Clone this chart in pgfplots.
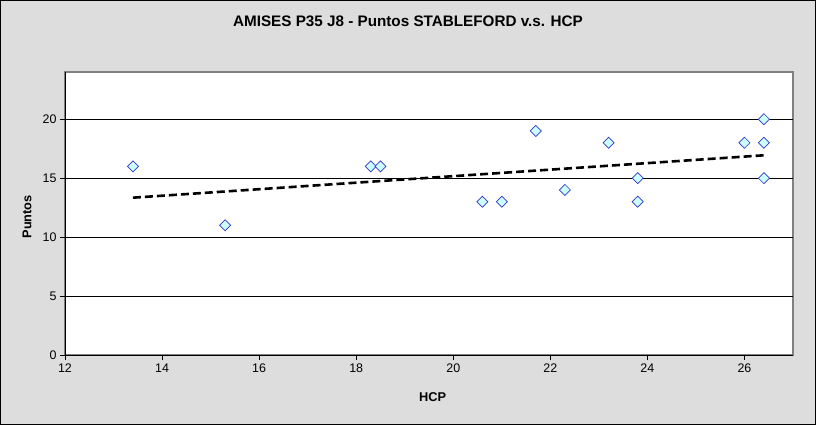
\documentclass[border=0pt]{standalone}
\usepackage{fontspec}
\setmainfont{Liberation Sans}
\usepackage{pgfplots}
\usepackage{pgfplotstable}
\pgfplotsset{compat=1.18}
\definecolor{bgray}{RGB}{221,221,221}
\definecolor{pgray}{RGB}{128,128,128}
\definecolor{mfill}{RGB}{204,255,255}
\definecolor{mdraw}{RGB}{51,51,204}
\pgfplotstableread{
x y
13.4 16
15.3 11
18.3 16
18.5 16
20.6 13
21.0 13
21.7 19
22.3 14
23.2 18
23.8 15
23.8 13
26.0 18
26.4 20
26.4 18
26.4 15
}\data
\begin{document}
\begin{tikzpicture}[x=1bp,y=1bp]
\fill[bgray] (0,0) rectangle (816,425);
\draw[black, line width=1.5bp] (0.75,0.75) rectangle (815.25,424.25);
\node[font=\fontsize{15.3}{18}\selectfont\bfseries] at (408,404) {AMISES P35 J8 - Puntos STABLEFORD v.s. HCP};
\begin{axis}[
  at={(65bp,70bp)}, anchor=south west,
  scale only axis, width=728bp, height=283bp,
  xmin=12, xmax=27, ymin=0, ymax=24,
  xtick={12,14,...,26}, ytick={0,5,...,20},
  axis x line*=bottom, axis y line*=left,
  axis line style={black, line width=0.8bp},
  axis background/.style={fill=white, draw=pgray, line width=1.5bp},
  tick align=outside, major tick length=5bp,
  tick style={black, line width=0.8bp},
  ymajorgrids, grid style={black, line width=0.8bp},
  ticklabel style={font=\fontsize{12.5}{14}\selectfont},
  /pgf/number format/assume math mode=true,
  xlabel={HCP}, ylabel={Puntos},
  label style={font=\fontsize{12.8}{15}\selectfont\bfseries},
  xlabel style={at={(axis description cs:0.505,-0.148)}, anchor=center},
  ylabel style={at={(axis description cs:-0.052,0.488)}, anchor=center},
  clip=false,
]
\addplot[only marks, mark=square*, mark size=3.9bp,
  mark options={rotate=45, fill=mfill, draw=mdraw, line width=0.7bp}]
  table[x=x, y=y] {\data};
\addplot[black, line width=2.6bp, dash pattern=on 8bp off 4bp, no marks]
  table[x=x, y={create col/linear regression={y=y}}] {\data};
\end{axis}
\end{tikzpicture}
\end{document}
